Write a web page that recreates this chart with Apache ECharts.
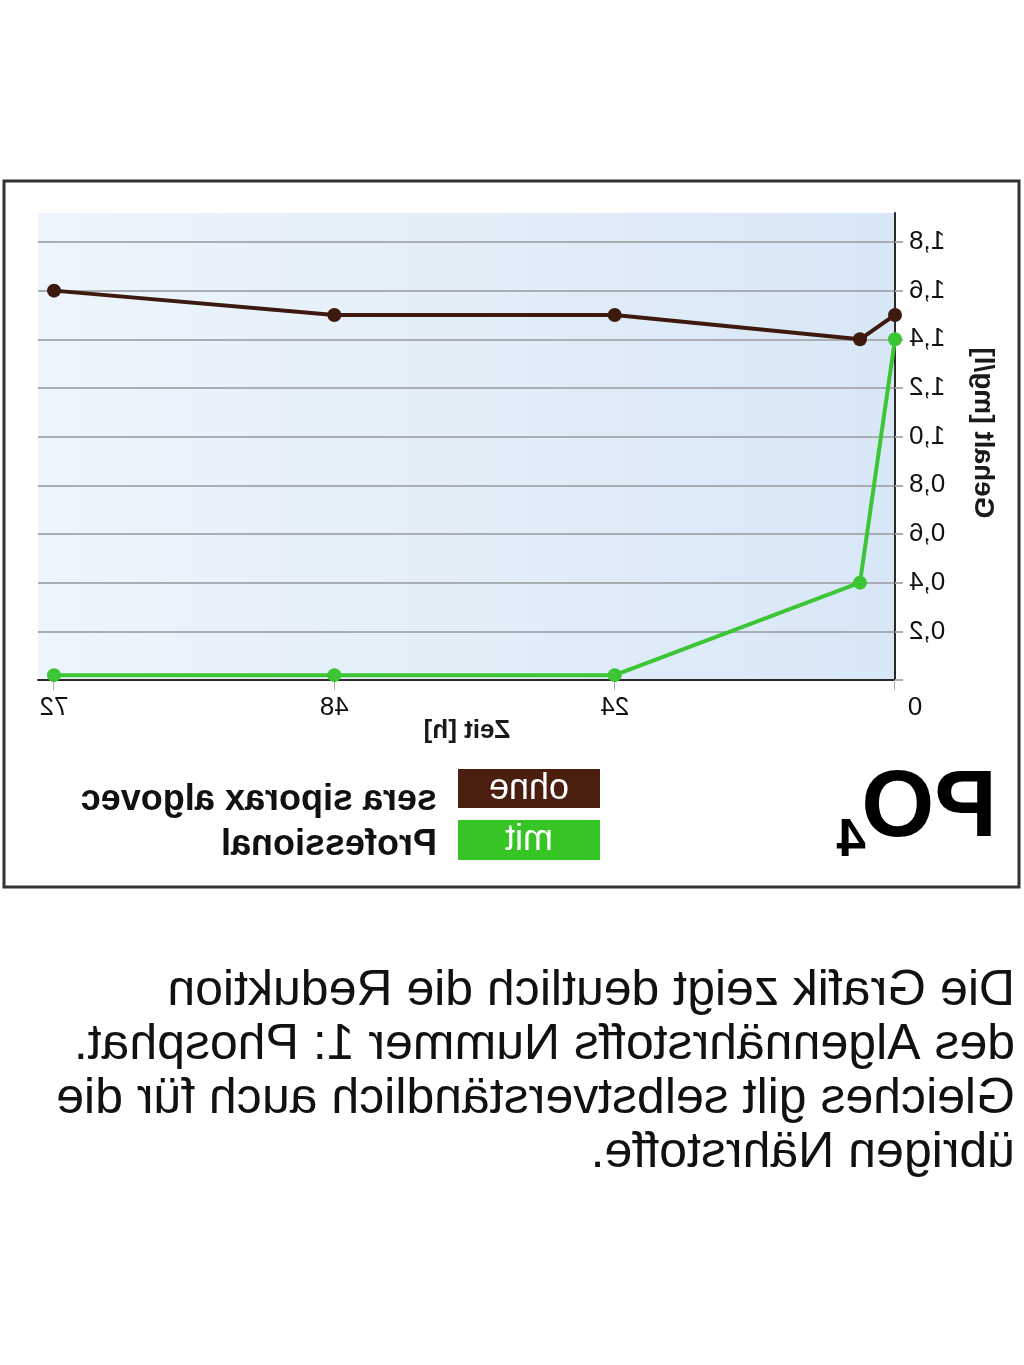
<!DOCTYPE html>
<html>
<head>
<meta charset="utf-8">
<script src="https://cdn.jsdelivr.net/npm/echarts@6/dist/echarts.min.js"></script>
<style>
html,body{margin:0;padding:0;background:#fff;}
#c{width:1024px;height:1365px;transform:scaleX(-1);}
</style>
</head>
<body>
<div id="c"></div>
<script>
// Data (time in hours, phosphate content in mg/l)
var timeHours = [0, 3, 24, 48, 72];
var ohneValues = [1.5, 1.4, 1.5, 1.5, 1.6];
var mitValues = [1.4, 0.4, 0.02, 0.02, 0.02];
var xTickLabels = [0, 24, 48, 72];
var yTickLabels = [0.2, 0.4, 0.6, 0.8, 1.0, 1.2, 1.4, 1.6, 1.8];
var yTicks = [0, 0.2, 0.4, 0.6, 0.8, 1.0, 1.2, 1.4, 1.6, 1.8];
var seriesNames = ['ohne', 'mit'];
var legendProduct = 'sera siporax algovec\nProfessional';
var titleMain = 'PO';
var titleSub = '4';
var xName = 'Zeit [h]';
var yName = 'Gehalt [mg/l]';
var paragraph = 'Die Grafik zeigt deutlich die Reduktion\ndes Algennährstoffs Nummer 1: Phosphat.\nGleiches gilt selbstverständlich auch für die\nübrigen Nährstoffe.';

function pairs(xs, ys){ return xs.map(function(x,i){ return [x, ys[i]]; }); }

var FONT = "'Liberation Sans', Arial, sans-serif";
var brown = '#3e1a0e';
var green = '#3cc534';

var chart = echarts.init(document.getElementById('c'));
chart.setOption({
  animation: false,
  backgroundColor: '#ffffff',
  grid: {
    left: 129, right: 38, top: 213, bottom: 685,
    show: true, borderWidth: 0,
    backgroundColor: new echarts.graphic.LinearGradient(0, 0, 1, 0, [
      {offset: 0, color: '#d8e7f6'},
      {offset: 1, color: '#eef5fc'}
    ])
  },
  xAxis: {
    type: 'value', min: 0, max: 73.37,
    axisLine: {show: true, onZero: false, lineStyle: {color: '#2a2a2a', width: 2}},
    axisTick: {show: true, customValues: xTickLabels, length: 10, lineStyle: {color: '#b0b0b0', width: 1}},
    axisLabel: {
      customValues: xTickLabels, margin: 15, color: '#111', fontSize: 26, fontFamily: FONT,
      formatter: function(v){ return v === 0 ? '{z|0}' : String(v); },
      rich: {z: {fontSize: 26, fontFamily: FONT, color: '#111', padding: [0, 40, 0, 0]}}
    },
    splitLine: {show: false}
  },
  yAxis: {
    type: 'value', min: 0, max: 1.919,
    axisLine: {show: true, lineStyle: {color: '#2a2a2a', width: 2}},
    axisTick: {show: true, customValues: yTicks, length: 8, lineStyle: {color: '#a8aeb4', width: 2}},
    axisLabel: {
      customValues: yTickLabels, margin: 14, color: '#111', fontSize: 26, fontFamily: FONT,
      formatter: function(v){ return v.toFixed(1).replace('.', ','); }
    },
    splitLine: {show: true, lineStyle: {color: '#a8aeb4', width: 2}}
  },
  series: [
    {
      name: seriesNames[0], type: 'line', data: pairs(timeHours, ohneValues),
      symbol: 'circle', symbolSize: 14,
      lineStyle: {color: brown, width: 4}, itemStyle: {color: brown}, z: 3
    },
    {
      name: seriesNames[1], type: 'line', data: pairs(timeHours, mitValues),
      symbol: 'circle', symbolSize: 14,
      lineStyle: {color: green, width: 4}, itemStyle: {color: green}, z: 4
    }
  ],
  graphic: [
    {type: 'rect', shape: {x: 5, y: 181, width: 1015, height: 706},
     style: {fill: 'none', stroke: '#333', lineWidth: 3}},
    {type: 'text', x: 557, y: 731, style: {text: xName, font: 'bold 26px ' + FONT, fill: '#1a1a1a', align: 'center', verticalAlign: 'middle'}},
    {type: 'text', x: 41, y: 433, rotation: Math.PI / 2, style: {text: yName, font: 'bold 28px ' + FONT, fill: '#1a1a1a', align: 'center', verticalAlign: 'middle'}},
    {type: 'rect', shape: {x: 424, y: 769, width: 142, height: 39}, style: {fill: '#4b1f0f'}},
    {type: 'rect', shape: {x: 424, y: 820, width: 142, height: 40}, style: {fill: '#36c524'}},
    {type: 'text', x: 495, y: 789, style: {text: seriesNames[0], font: '36px ' + FONT, fill: '#ffffff', align: 'center', verticalAlign: 'middle'}},
    {type: 'text', x: 495, y: 840, style: {text: seriesNames[1], font: '36px ' + FONT, fill: '#ffffff', align: 'center', verticalAlign: 'middle'}},
    {type: 'text', x: 587, y: 778, style: {text: legendProduct, font: 'bold 36px ' + FONT, lineHeight: 45, fill: '#111', align: 'left', verticalAlign: 'top'}},
    {type: 'text', x: 27, y: 810, style: {text: titleMain, font: 'bold 94px ' + FONT, fill: '#000', align: 'left', verticalAlign: 'middle'}},
    {type: 'text', x: 158, y: 841, style: {text: titleSub, font: 'bold 53px ' + FONT, fill: '#000', align: 'left', verticalAlign: 'middle'}},
    {type: 'text', x: 9, y: 964, style: {text: paragraph, font: '50px ' + FONT, lineHeight: 54, fill: '#111', align: 'left', verticalAlign: 'top'}}
  ]
});
</script>
</body>
</html>
